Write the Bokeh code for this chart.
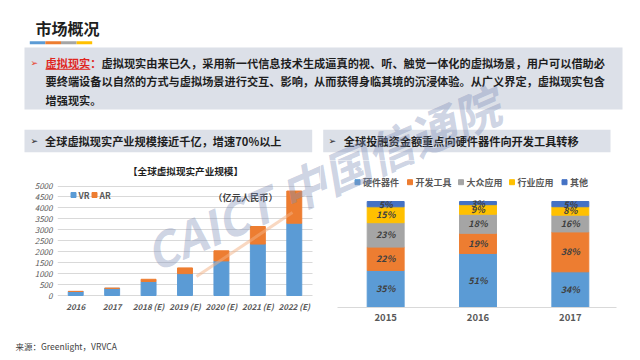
import math
from bokeh.plotting import figure
from bokeh.models import Range1d, FixedTicker, ColumnDataSource
from bokeh.layouts import column, row
from bokeh.core.properties import value
from bokeh.embed import file_html
from bokeh.resources import INLINE

# ---------------- data ----------------
years = ["2016", "2017", "2018 (E)", "2019 (E)", "2020 (E)", "2021 (E)", "2022 (E)"]
vr = [185, 330, 640, 1000, 1580, 2350, 3300]
ar = [0, 0, 100, 260, 460, 800, 1470]
size_series = ["VR", "AR"]
size_ticks = [0, 500, 1000, 1500, 2000, 2500, 3000, 3500, 4000, 4500, 5000]

inv_years = ["2015", "2016", "2017"]
inv_series = ["硬件器件", "开发工具", "大众应用", "行业应用", "其他"]
inv_hw = [35, 51, 34]
inv_dev = [22, 19, 38]
inv_mass = [23, 18, 16]
inv_ind = [15, 9, 8]
inv_other = [5, 3, 5]

# ---------------- style ----------------
CJK = "Noto Sans CJK SC"
BLUE, ORANGE, GRAY, YELLOW, DBLUE = "#5b9bd5", "#ed7d31", "#a5a5a5", "#ffc000", "#4472c4"
BOX = "#dce0e8"
INK = "#1e1e1e"
RED = "#e0261e"


def txt(p, x, y, s, size, color=INK, style="bold", align="left", font=CJK, **kw):
    p.text(x=[x], y=[y], text=[s], text_font=value(font),
           text_font_size=value(f"{size}px"), text_font_style=value(style),
           text_color=color, text_align=value(align), text_baseline=value("middle"), **kw)


def base_fig(**kw):
    p = figure(output_backend="svg", toolbar_location=None, **kw)
    p.outline_line_color = None
    p.background_fill_color = "white"
    p.border_fill_color = "white"
    return p


def watermark(p, **rn):
    p.segment(x0=[196], y0=[276], x1=[292], y1=[212], line_color="#f4b183",
              line_alpha=0.5, line_width=3, **rn)
    p.text(x=[321], y=[177], text=["CAICT 中国信通院"], angle=math.radians(23.6),
           text_font=value(CJK), text_font_size=value("47px"),
           text_font_style=value("bold italic"), text_color="#7f8fb8", text_alpha=0.4,
           text_align=value("center"), text_baseline=value("middle"), **rn)


def page_ranges(p, x0, x1, ybot, ytop):
    p.extra_x_ranges = {"px": Range1d(x0, x1)}
    p.extra_y_ranges = {"py": Range1d(ybot, ytop)}


def cat_axis(p, labels):
    pos = list(range(len(labels)))
    p.xaxis.ticker = FixedTicker(ticks=pos)
    p.xaxis.major_label_overrides = {i: lab for i, lab in zip(pos, labels)}
    p.xaxis.minor_tick_line_color = None
    p.xaxis.major_tick_line_color = None
    p.xaxis.major_tick_out = 0
    p.xaxis.major_tick_in = 0
    return pos


# ---------------- header ----------------
head = base_fig(width=640, height=160, x_range=Range1d(0, 640), y_range=Range1d(160, 0),
                x_axis_location=None, y_axis_location=None, min_border=0)
head.grid.visible = False

txt(head, 35, 27, "市场概况", 16)
for i, c in enumerate([BLUE, ORANGE, GRAY, YELLOW]):
    head.quad(left=[29.3 + i * 15.6], right=[29.3 + (i + 1) * 15.6], top=[40.7], bottom=[43.7],
              fill_color=c, line_color=None)

head.quad(left=[24], right=[622], top=[47], bottom=[109], fill_color=BOX, line_color=None)
FS = 11.2
txt(head, 30, 62, "➢", 9, color="#e8402a", font="DejaVu Sans", style="normal")
txt(head, 45, 62, "虚拟现实：", FS, color=RED)
head.segment(x0=[45], y0=[68.8], x1=[45 + 4 * FS], y1=[68.8], line_color=RED, line_width=1)
txt(head, 45 + 5 * FS, 62, "虚拟现实由来已久，采用新一代信息技术生成逼真的视、听、触觉一体化的虚拟场景，用户可以借助必", FS)
txt(head, 45, 80.5, "要终端设备以自然的方式与虚拟场景进行交互、影响，从而获得身临其境的沉浸体验。从广义界定，虚拟现实包含", FS)
txt(head, 45, 99, "增强现实。", FS)

head.quad(left=[24], right=[311.7], top=[129.3], bottom=[151.7], fill_color=BOX, line_color=None)
head.quad(left=[322.7], right=[610], top=[129.3], bottom=[151.7], fill_color=BOX, line_color=None)
txt(head, 30, 140.5, "➢", 9, color=INK, font="DejaVu Sans", style="normal")
txt(head, 44.5, 140.5, "全球虚拟现实产业规模接近千亿，增速70%以上", FS)
txt(head, 328, 140.5, "➢", 9, color=INK, font="DejaVu Sans", style="normal")
txt(head, 343.3, 140.5, "全球投融资金额重点向硬件器件向开发工具转移", FS)
watermark(head)

# both chart frames span page y 160..307 (the row aligns their frames)
F_TOP, F_BOT = 160, 307
rn = dict(x_range_name="px", y_range_name="py")

# ---------------- left chart (page x 0..320) ----------------
L_ZERO, L_5000 = 295, 185.5
L_X0, L_X1 = 57, 312            # plot area of the bars
l_unit = (L_X1 - L_X0) / len(years)
u_per_px = 5000 / (L_ZERO - L_5000)
pl = base_fig(width=320, height=170,
              x_range=Range1d(-0.5, len(years) - 0.5 + (320 - L_X1) / l_unit),
              y_range=Range1d(-(F_BOT - L_ZERO) * u_per_px, (L_ZERO - F_TOP) * u_per_px),
              min_border_left=L_X0, min_border_right=0, min_border_top=0,
              min_border_bottom=330 - F_BOT)
page_ranges(pl, L_X0, 320, F_BOT, F_TOP)
xpos_l = cat_axis(pl, years)
src_l = ColumnDataSource(dict(x=xpos_l, VR=vr, AR=ar))
pl.vbar_stack(size_series, x="x", width=0.41, color=[BLUE, ORANGE], source=src_l)

pl.yaxis.ticker = FixedTicker(ticks=size_ticks)
pl.ygrid.ticker = FixedTicker(ticks=size_ticks)
pl.ygrid.grid_line_color = "#d9d9d9"
pl.ygrid.cross_bounds = (-0.5, len(years) - 0.5)
pl.xgrid.grid_line_color = None
pl.yaxis.axis_line_color = None
pl.yaxis.major_tick_line_color = None
pl.yaxis.minor_tick_line_color = None
pl.yaxis.major_tick_out = 0
pl.yaxis.major_tick_in = 0
pl.yaxis.major_label_standoff = 5
pl.yaxis.major_label_text_font = CJK
pl.yaxis.major_label_text_font_size = "8px"
pl.yaxis.major_label_text_font_style = "italic"
pl.yaxis.major_label_text_color = "#595959"
# x axis sits at the frame bottom; its labels are pulled up to just under the zero line
pl.xaxis.axis_line_color = None
pl.xaxis.major_label_standoff = -7
pl.xaxis.major_label_text_font = CJK
pl.xaxis.major_label_text_font_size = "8px"
pl.xaxis.major_label_text_font_style = "bold italic"
pl.xaxis.major_label_text_color = "#595959"

txt(pl, 185, 170.5, "【全球虚拟现实产业规模】", 9.6, align="center", **rn)
for name, c, x0 in zip(size_series, [BLUE, ORANGE], [73, 94]):
    pl.scatter(x=[x0], y=[194.5], marker="square", size=5, color=c, **rn)
    txt(pl, x0 + 5, 194.5, name, 8.5, color="#595959", **rn)
txt(pl, 245, 196.5, "（亿元人民币）", 9.2, color="#404040", align="center", **rn)
watermark(pl, **rn)

# ---------------- right chart (page x 320..640) ----------------
R_100 = 201
R_X0, R_X1 = 339, 616
r_unit = (R_X1 - R_X0) / len(inv_years)
pr = base_fig(width=320, height=170,
              x_range=Range1d(-0.5 - (R_X0 - 320) / r_unit, len(inv_years) - 0.5),
              y_range=Range1d(0, (F_BOT - F_TOP) / (F_BOT - R_100)),
              min_border_left=0, min_border_right=640 - R_X1, min_border_top=0,
              min_border_bottom=330 - F_BOT, y_axis_location=None)
page_ranges(pr, 320, R_X1, F_BOT, F_TOP)
pr.grid.visible = False
xpos_r = cat_axis(pr, inv_years)

inv_values = [inv_hw, inv_dev, inv_mass, inv_ind, inv_other]
inv_colors = [BLUE, ORANGE, GRAY, YELLOW, DBLUE]
totals = [sum(v) for v in zip(*inv_values)]
data_r = {"x": xpos_r}
for name, vals in zip(inv_series, inv_values):
    data_r[name] = [v / t for v, t in zip(vals, totals)]
pr.vbar_stack(inv_series, x="x", width=0.4, color=inv_colors, source=ColumnDataSource(data_r))

lab_x, lab_y, lab_t = [], [], []
cum = [0.0] * len(inv_years)
for name, vals in zip(inv_series, inv_values):
    for i, xp in enumerate(xpos_r):
        f = data_r[name][i]
        lab_x.append(xp)
        lab_y.append(cum[i] + f / 2)
        lab_t.append(f"{vals[i]}%")
        cum[i] += f
pr.text(x=lab_x, y=lab_y, text=lab_t, text_font=value(CJK), text_font_size=value("9px"),
        text_font_style=value("bold italic"), text_color="#404040",
        text_align=value("center"), text_baseline=value("middle"))

pr.xaxis.axis_line_color = "#d9d9d9"
pr.xaxis.bounds = (-0.525, len(inv_years) - 0.49)
pr.xaxis.major_label_standoff = 6
pr.xaxis.major_label_text_font = CJK
pr.xaxis.major_label_text_font_size = "9.5px"
pr.xaxis.major_label_text_font_style = "bold"
pr.xaxis.major_label_text_color = "#595959"

for name, c, x0 in zip(inv_series, inv_colors, [357, 409.5, 460.5, 511.5, 564]):
    pr.scatter(x=[x0], y=[181.7], marker="square", size=5, color=c, **rn)
    txt(pr, x0 + 5.5, 181.7, name, 9, color="#595959", **rn)
watermark(pr, **rn)

# ---------------- footer ----------------
foot = base_fig(width=640, height=30, x_range=Range1d(0, 640), y_range=Range1d(360, 330),
                x_axis_location=None, y_axis_location=None, min_border=0)
foot.grid.visible = False
txt(foot, 15, 345, "来源：Greenlight，VRVCA", 8.5, color="#404040", style="normal")

layout = column(head, row(pl, pr), foot)
open("out.html", "w").write(file_html(layout, INLINE))
